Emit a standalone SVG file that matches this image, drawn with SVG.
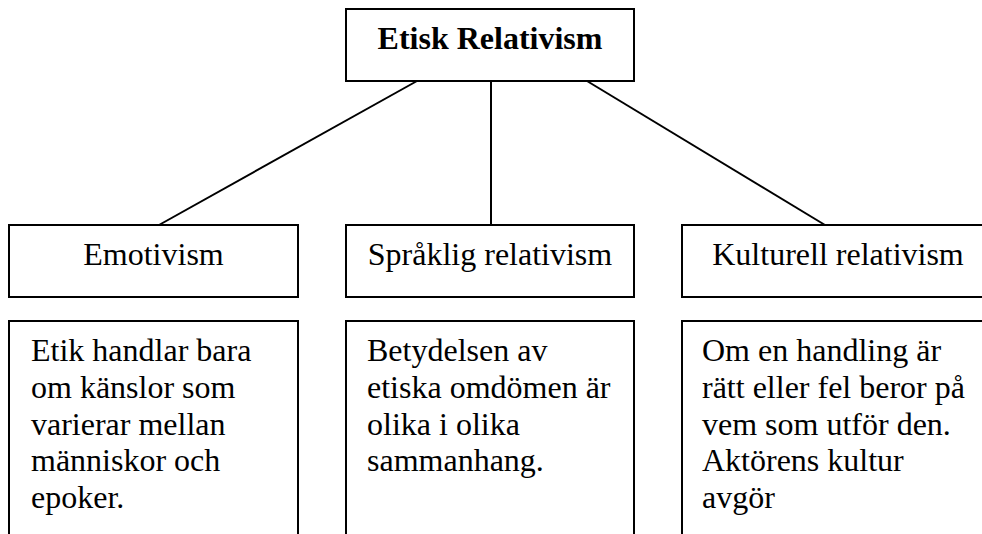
<svg xmlns="http://www.w3.org/2000/svg" width="982" height="534" viewBox="0 0 982 534">
<style>
.box{fill:#fff;stroke:#000;stroke-width:2}
.t{font-family:"Liberation Serif","Times New Roman",serif;font-size:32px;fill:#000}
.c{text-anchor:middle}
.b{font-weight:bold}
.ln{stroke:#000;stroke-width:2;fill:none}
</style>
<rect width="982" height="534" fill="#fff"/>
<g id="connectors">
<line class="ln" x1="417" y1="81" x2="159" y2="225"/>
<line class="ln" x1="491" y1="81" x2="491" y2="225"/>
<line class="ln" x1="587" y1="81" x2="825" y2="225"/>
</g>
<g id="root">
<rect class="box" x="346" y="9" width="288" height="72"/>
<text class="t c b" x="490" y="49">Etisk Relativism</text>
</g>
<g id="emotivism">
<rect class="box" x="9" y="225" width="289" height="72"/>
<text class="t c" x="153.5" y="265">Emotivism</text>
</g>
<g id="spraklig">
<rect class="box" x="346" y="225" width="288" height="72"/>
<text class="t c" x="490" y="265">Språklig relativism</text>
</g>
<g id="kulturell">
<rect class="box" x="682" y="225" width="314" height="72"/>
<text class="t c" x="838" y="265">Kulturell relativism</text>
</g>
<g id="emotivism-desc">
<rect class="box" x="9" y="321" width="289" height="230"/>
<text class="t" x="31" y="361">Etik handlar bara<tspan x="31" dy="36.8">om känslor som</tspan><tspan x="31" dy="36.8">varierar mellan</tspan><tspan x="31" dy="36.8">människor och</tspan><tspan x="31" dy="36.8">epoker.</tspan></text>
</g>
<g id="spraklig-desc">
<rect class="box" x="346" y="321" width="288" height="230"/>
<text class="t" x="367" y="361">Betydelsen av<tspan x="367" dy="36.8">etiska omdömen är</tspan><tspan x="367" dy="36.8">olika i olika</tspan><tspan x="367" dy="36.8">sammanhang.</tspan></text>
</g>
<g id="kulturell-desc">
<rect class="box" x="682" y="321" width="314" height="230"/>
<text class="t" x="702" y="361">Om en handling är<tspan x="702" dy="36.8">rätt eller fel beror på</tspan><tspan x="702" dy="36.8">vem som utför den.</tspan><tspan x="702" dy="36.8">Aktörens kultur</tspan><tspan x="702" dy="36.8">avgör</tspan></text>
</g>
</svg>
